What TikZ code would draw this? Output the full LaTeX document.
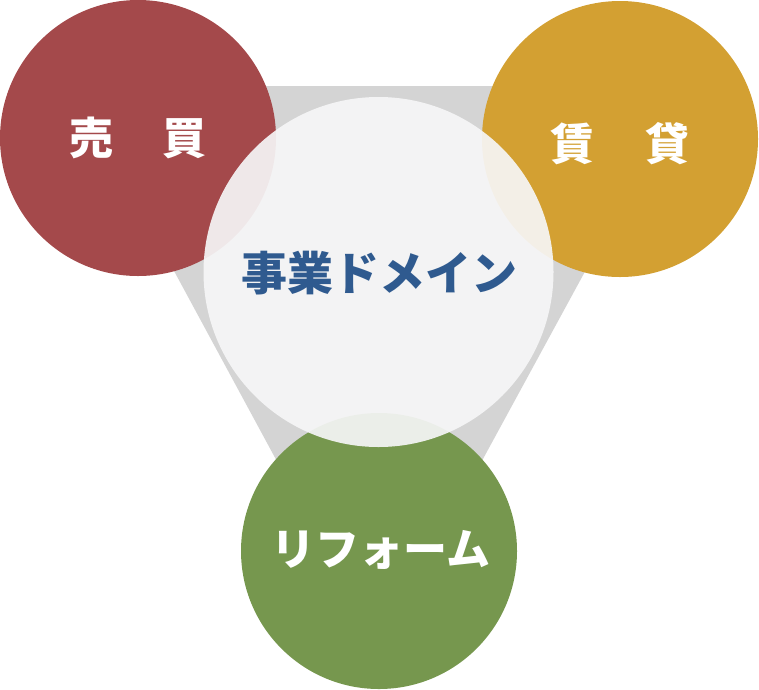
\documentclass[tikz,border=0pt]{standalone}
\usepackage{fontspec}
\newfontfamily\cjk{Noto Sans CJK JP}
\definecolor{redc}{HTML}{A4494B}
\definecolor{goldc}{HTML}{D3A032}
\definecolor{greenc}{HTML}{76974E}
\definecolor{grayc}{HTML}{D4D4D4}
\definecolor{whitec}{HTML}{F6F6F7}
\definecolor{bluec}{HTML}{2F5A8F}
\tikzset{
  circ/.style={circle, minimum size=276pt, inner sep=0pt, draw=none},
  lbl/.style={text=white, font=\cjk\bfseries\fontsize{44}{44}\selectfont, inner sep=0pt},
  dom/.style={text=bluec, font=\cjk\bfseries\fontsize{46}{46}\selectfont, inner sep=0pt}
}
\begin{document}
\begin{tikzpicture}[x=1pt,y=-1pt]
\useasboundingbox (0,0) rectangle (759,689);
\fill[grayc] (74,86) -- (686,86) -- (379,650) -- cycle;
\node[circ, fill=redc] (baibai) at (138,138) {};
\node[circ, fill=goldc] (chintai) at (620,139) {};
\node[circ, fill=greenc] (reform) at (379,551) {};
\node[circle, minimum size=350pt, inner sep=0pt, fill=whitec, fill opacity=0.92] (domain) at (378.5,272) {};
\node[lbl] (t1) at (baibai) {売\hspace{50pt}買};
\node[lbl] (t2) at (620,144) {賃\hspace{51pt}貸};
\node[lbl] (t3) at (381,550) {リフォーム};
\node[dom] (t4) at (379.5,273) {事業ドメイン};
\end{tikzpicture}
\end{document}
